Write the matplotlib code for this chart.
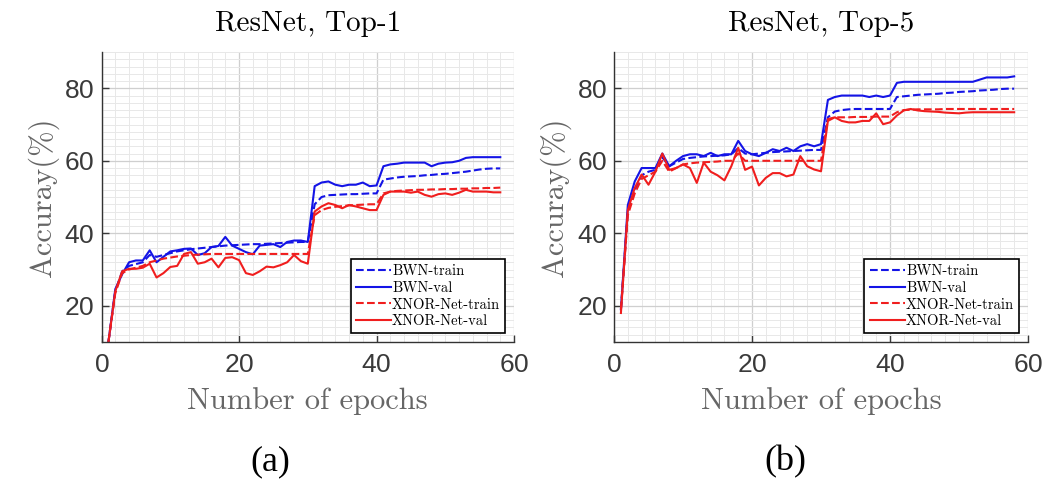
import numpy as np
import matplotlib
matplotlib.use("Agg")
import matplotlib.pyplot as plt
from matplotlib.ticker import MultipleLocator

plt.rcParams["axes.formatter.use_mathtext"] = True

epochs = np.arange(1, 59)

# ResNet Top-1 accuracy (%)
top1_bwn_train = [10, 24, 29.5, 31, 31.5, 32, 34, 33.5, 34, 34.5, 35, 35.3, 35.6, 35.8, 36,
                  36.2, 36.4, 36.6, 36.7, 36.8, 36.9, 37, 37, 37.1, 37.2, 37.3, 37.4, 37.5, 37.6, 37.6,
                  48, 50, 50.5, 50.6, 50.7, 50.8, 50.8, 50.9, 51, 51,
                  54.8, 55.1, 55.4, 55.6, 55.7, 55.8, 56, 56.1, 56.3, 56.4, 56.6, 56.8, 57, 57.3, 57.6,
                  57.8, 57.9, 57.9]
top1_bwn_val = [10, 24.6, 28.7, 32, 32.5, 32.5, 35.3, 32, 33.5, 35, 35.3, 35.7, 35.8, 34, 34.5,
                36.2, 36.5, 39, 36.6, 35.7, 34.8, 34.2, 36.6, 36.8, 37, 36.2, 37.6, 38, 38, 37.6,
                53, 54, 54.3, 53.4, 53, 53.4, 53.4, 54, 53, 53.2,
                58.5, 59, 59.2, 59.5, 59.5, 59.5, 59.5, 58.5, 59.2, 59.5, 59.6, 60, 60.8, 61, 61,
                61, 61, 61]
top1_xnor_train = [10, 23.5, 29, 30, 30.5, 31, 32, 32.5, 33, 33.3, 33.6, 33.8, 34, 34.1, 34.2,
                   34.3, 34.3, 34.3, 34.3, 34.3, 34.3, 34.3, 34.3, 34.3, 34.3, 34.3, 34.3, 34.3, 34.3, 34.3,
                   45, 46.4, 47, 47.3, 47.5, 47.7, 47.8, 47.9, 48, 48,
                   51, 51.5, 51.7, 51.8, 51.9, 52, 52, 52.1, 52.1, 52.2, 52.2, 52.3, 52.3, 52.4, 52.4,
                   52.5, 52.5, 52.6]
top1_xnor_val = [10, 24, 29.5, 30.2, 30.2, 30.5, 31.6, 27.8, 29, 30.7, 31, 34.3, 34.8, 31.6, 32,
                 33, 30.6, 33.2, 33.4, 32.6, 29, 28.5, 29.5, 30.8, 30.6, 31.2, 32, 34, 32.3, 31.6,
                 46, 47.4, 48.3, 47.8, 46.9, 47.8, 47.4, 46.9, 46.4, 46.4,
                 50.6, 51.5, 51.5, 51.5, 51.2, 51.5, 50.6, 50.1, 50.8, 51, 50.6, 51.2, 52, 51.5, 51.5,
                 51.5, 51.3, 51.3]

# ResNet Top-5 accuracy (%)
top5_bwn_train = [19, 46, 52, 56, 57, 57.5, 61, 58.5, 59.5, 60.5, 60.8, 61, 61.2, 61.3, 61.4,
                  61.5, 61.8, 63.5, 62, 61.8, 62, 62.2, 62.4, 62.5, 62.6, 62.7, 62.8, 62.9, 63, 63,
                  72, 73.6, 74, 74.2, 74.3, 74.3, 74.3, 74.3, 74.3, 74.3,
                  77.6, 77.8, 78, 78.2, 78.3, 78.4, 78.5, 78.7, 78.8, 79, 79.1, 79.2, 79.4, 79.5, 79.6,
                  79.8, 79.9, 79.9]
top5_bwn_val = [19, 47.8, 54.3, 58, 58, 58, 62, 58.5, 60, 61.3, 61.8, 61.8, 61.3, 62.2, 61.3,
                61.8, 61.8, 65.5, 62.7, 61.8, 61.3, 62.2, 63.2, 62.7, 63.6, 62.7, 64, 64.6, 64, 64.6,
                76.8, 77.6, 78, 78, 78, 78, 77.6, 78, 77.6, 78,
                81.5, 81.8, 81.8, 81.8, 81.8, 81.8, 81.8, 81.8, 81.8, 81.8, 81.8, 81.8, 82.4, 83, 83,
                83, 83, 83.3]
top5_xnor_train = [19, 45, 51, 55, 56, 57, 60, 57, 58, 59, 59.3, 59.5, 59.6, 59.7, 59.8,
                   60, 60, 62, 60, 60, 60, 60, 60, 60, 60, 60, 60, 60, 60, 60,
                   71.5, 72, 72, 72, 72.1, 72.1, 72.1, 72.2, 72.2, 72.2,
                   73.4, 74, 74.1, 74.2, 74.2, 74.2, 74.2, 74.3, 74.3, 74.3, 74.3, 74.3, 74.3, 74.3, 74.3,
                   74.3, 74.3, 74.3]
top5_xnor_val = [18, 46.4, 52.5, 56.2, 53.4, 57, 62, 57.5, 58, 59, 58, 53.9, 59.5, 57, 56,
                 54.6, 58.5, 63.6, 57.5, 58.4, 53.2, 55.3, 56.6, 56.6, 55.7, 56.2, 61.3, 58.5, 57.6, 57.1,
                 71, 72, 71, 70.6, 70.6, 71, 71, 73.1, 70.1, 70.6,
                 72.5, 73.9, 74.3, 73.9, 73.7, 73.6, 73.5, 73.3, 73.2, 73.1, 73.3, 73.4, 73.4, 73.4, 73.4,
                 73.4, 73.4, 73.4]

BLUE, RED = "#1414e6", "#f01e1e"
SERIF = "cmr10"
LABEL_GRAY = "#666666"


def panel(ax, title, bwn_train, bwn_val, xnor_train, xnor_val):
    ax.plot(epochs, bwn_train, "--", color=BLUE, lw=1.5, label="BWN-train")
    ax.plot(epochs, bwn_val, "-", color=BLUE, lw=1.5, label="BWN-val")
    ax.plot(epochs, xnor_train, "--", color=RED, lw=1.5, label="XNOR-Net-train")
    ax.plot(epochs, xnor_val, "-", color=RED, lw=1.5, label="XNOR-Net-val")

    ax.set_xlim(0, 60)
    ax.set_ylim(10, 90)
    ax.set_xticks([0, 20, 40, 60])
    ax.set_yticks([20, 40, 60, 80])
    ax.xaxis.set_minor_locator(MultipleLocator(2))
    ax.yaxis.set_minor_locator(MultipleLocator(2))
    ax.grid(True, which="major", color="#cfcfcf", lw=0.9)
    ax.grid(True, which="minor", color="#e8e8e8", lw=0.7)
    ax.set_axisbelow(True)
    ax.tick_params(which="major", direction="in", length=5, width=1.0,
                   labelsize=19, colors="#3a3a3a", pad=5)
    ax.tick_params(axis="x", which="major", pad=8)
    ax.tick_params(which="minor", length=0)
    for lab in ax.get_xticklabels() + ax.get_yticklabels():
        lab.set_family("Liberation Sans")
    for side in ("top", "right"):
        ax.spines[side].set_visible(False)
    for side in ("left", "bottom"):
        ax.spines[side].set_color("#333333")
        ax.spines[side].set_linewidth(1.0)

    ax.set_title(title, family=SERIF, fontsize=21, pad=15)
    ax.set_xlabel("Number of epochs", family=SERIF, fontsize=22, color=LABEL_GRAY, labelpad=7)
    ax.set_ylabel("Accuray(%)", family=SERIF, fontsize=22, color=LABEL_GRAY, labelpad=4)
    leg = ax.legend(loc="lower right", prop={"family": SERIF, "size": 10.5},
                    fancybox=False, framealpha=1, edgecolor="black",
                    handlelength=2.4, handletextpad=0.1, borderpad=0.35,
                    labelspacing=0.2, borderaxespad=0.6)
    leg.get_frame().set_linewidth(1.2)


fig = plt.figure(figsize=(10.48, 4.84), dpi=100)
ax1 = fig.add_axes([0.0969, 0.2934, 0.3936, 0.599])
ax2 = fig.add_axes([0.5859, 0.2934, 0.395, 0.599])

panel(ax1, "ResNet, Top-1", top1_bwn_train, top1_bwn_val, top1_xnor_train, top1_xnor_val)
panel(ax2, "ResNet, Top-5", top5_bwn_train, top5_bwn_val, top5_xnor_train, top5_xnor_val)

fig.text(0.258, 0.045, "(a)", family="Liberation Serif", fontsize=26, ha="center", va="center")
fig.text(0.749, 0.045, "(b)", family="Liberation Serif", fontsize=26, ha="center", va="center")

fig.savefig("out.png", dpi=100)
